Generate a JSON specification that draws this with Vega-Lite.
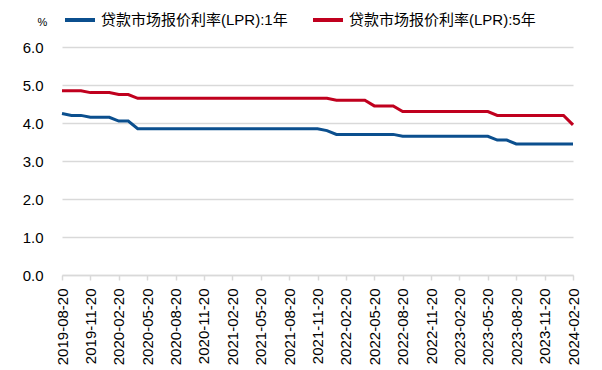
{
  "$schema": "https://vega.github.io/schema/vega-lite/v6.json",
  "width": 511,
  "height": 228,
  "autosize": "none",
  "padding": {"left": 62, "top": 47, "right": 29, "bottom": 95},
  "background": "white",
  "config": {"view": {"stroke": null}, "font": "Liberation Sans, Noto Sans CJK SC"},
  "datasets": {
    "lpr": [
      {"date": "2019-08-20", "y1": 4.25, "y5": 4.85},
      {"date": "2019-09-20", "y1": 4.20, "y5": 4.85},
      {"date": "2019-10-20", "y1": 4.20, "y5": 4.85},
      {"date": "2019-11-20", "y1": 4.15, "y5": 4.80},
      {"date": "2019-12-20", "y1": 4.15, "y5": 4.80},
      {"date": "2020-01-20", "y1": 4.15, "y5": 4.80},
      {"date": "2020-02-20", "y1": 4.05, "y5": 4.75},
      {"date": "2020-03-20", "y1": 4.05, "y5": 4.75},
      {"date": "2020-04-20", "y1": 3.85, "y5": 4.65},
      {"date": "2020-05-20", "y1": 3.85, "y5": 4.65},
      {"date": "2020-06-20", "y1": 3.85, "y5": 4.65},
      {"date": "2020-07-20", "y1": 3.85, "y5": 4.65},
      {"date": "2020-08-20", "y1": 3.85, "y5": 4.65},
      {"date": "2020-09-20", "y1": 3.85, "y5": 4.65},
      {"date": "2020-10-20", "y1": 3.85, "y5": 4.65},
      {"date": "2020-11-20", "y1": 3.85, "y5": 4.65},
      {"date": "2020-12-20", "y1": 3.85, "y5": 4.65},
      {"date": "2021-01-20", "y1": 3.85, "y5": 4.65},
      {"date": "2021-02-20", "y1": 3.85, "y5": 4.65},
      {"date": "2021-03-20", "y1": 3.85, "y5": 4.65},
      {"date": "2021-04-20", "y1": 3.85, "y5": 4.65},
      {"date": "2021-05-20", "y1": 3.85, "y5": 4.65},
      {"date": "2021-06-20", "y1": 3.85, "y5": 4.65},
      {"date": "2021-07-20", "y1": 3.85, "y5": 4.65},
      {"date": "2021-08-20", "y1": 3.85, "y5": 4.65},
      {"date": "2021-09-20", "y1": 3.85, "y5": 4.65},
      {"date": "2021-10-20", "y1": 3.85, "y5": 4.65},
      {"date": "2021-11-20", "y1": 3.85, "y5": 4.65},
      {"date": "2021-12-20", "y1": 3.80, "y5": 4.65},
      {"date": "2022-01-20", "y1": 3.70, "y5": 4.60},
      {"date": "2022-02-20", "y1": 3.70, "y5": 4.60},
      {"date": "2022-03-20", "y1": 3.70, "y5": 4.60},
      {"date": "2022-04-20", "y1": 3.70, "y5": 4.60},
      {"date": "2022-05-20", "y1": 3.70, "y5": 4.45},
      {"date": "2022-06-20", "y1": 3.70, "y5": 4.45},
      {"date": "2022-07-20", "y1": 3.70, "y5": 4.45},
      {"date": "2022-08-20", "y1": 3.65, "y5": 4.30},
      {"date": "2022-09-20", "y1": 3.65, "y5": 4.30},
      {"date": "2022-10-20", "y1": 3.65, "y5": 4.30},
      {"date": "2022-11-20", "y1": 3.65, "y5": 4.30},
      {"date": "2022-12-20", "y1": 3.65, "y5": 4.30},
      {"date": "2023-01-20", "y1": 3.65, "y5": 4.30},
      {"date": "2023-02-20", "y1": 3.65, "y5": 4.30},
      {"date": "2023-03-20", "y1": 3.65, "y5": 4.30},
      {"date": "2023-04-20", "y1": 3.65, "y5": 4.30},
      {"date": "2023-05-20", "y1": 3.65, "y5": 4.30},
      {"date": "2023-06-20", "y1": 3.55, "y5": 4.20},
      {"date": "2023-07-20", "y1": 3.55, "y5": 4.20},
      {"date": "2023-08-20", "y1": 3.45, "y5": 4.20},
      {"date": "2023-09-20", "y1": 3.45, "y5": 4.20},
      {"date": "2023-10-20", "y1": 3.45, "y5": 4.20},
      {"date": "2023-11-20", "y1": 3.45, "y5": 4.20},
      {"date": "2023-12-20", "y1": 3.45, "y5": 4.20},
      {"date": "2024-01-20", "y1": 3.45, "y5": 4.20},
      {"date": "2024-02-20", "y1": 3.45, "y5": 3.95}
    ]
  },
  "data": {"name": "lpr"},
  "transform": [
    {"fold": ["y1", "y5"], "as": ["key", "value"]},
    {"calculate": "datum.key === 'y1' ? '贷款市场报价利率(LPR):1年' : '贷款市场报价利率(LPR):5年'", "as": "series"}
  ],
  "mark": {"type": "line", "strokeWidth": 3, "interpolate": "linear"},
  "encoding": {
    "x": {
      "field": "date",
      "type": "ordinal",
      "sort": null,
      "scale": {"type": "point", "padding": 0},
      "axis": {
        "title": null,
        "labelExpr": "indexof(['02','05','08','11'], slice(datum.value, 5, 7)) >= 0 ? datum.value : ''",
        "tickOpacity": {"condition": {"test": "indexof(['02','05','08','11'], slice(datum.value, 5, 7)) >= 0", "value": 1}, "value": 0},
        "labelAngle": -90,
        "labelAlign": "right",
        "labelBaseline": "middle",
        "labelFontSize": 15,
        "labelColor": "#000000",
        "labelPadding": 8,
        "labelOverlap": false,
        "labelBound": false,
        "labelFlush": false,
        "domainColor": "#d9d9d9",
        "domainWidth": 1.5,
        "tickColor": "#d9d9d9",
        "tickSize": 5,
        "tickWidth": 1.5,
        "grid": false
      }
    },
    "y": {
      "field": "value",
      "type": "quantitative",
      "scale": {"domain": [0, 6], "nice": false},
      "axis": {
        "title": "%",
        "titleAngle": 0,
        "titleX": -20,
        "titleY": -25,
        "titleAlign": "center",
        "titleBaseline": "middle",
        "titleFontSize": 11,
        "titleFontWeight": "normal",
        "titleColor": "#000000",
        "values": [0, 1, 2, 3, 4, 5, 6],
        "format": ".1f",
        "labelFontSize": 15,
        "labelColor": "#000000",
        "labelPadding": 19,
        "domain": false,
        "ticks": false,
        "grid": true,
        "gridColor": "#d9d9d9",
        "gridWidth": 1.5
      }
    },
    "color": {
      "field": "series",
      "type": "nominal",
      "scale": {"domain": ["贷款市场报价利率(LPR):1年", "贷款市场报价利率(LPR):5年"], "range": ["#0b4f8e", "#c0001e"]},
      "legend": {
        "title": null,
        "orient": "none",
        "legendX": 1,
        "legendY": -44,
        "direction": "horizontal",
        "symbolType": "stroke",
        "symbolSize": 900,
        "symbolStrokeWidth": 4,
        "labelFontSize": 15,
        "labelColor": "#000000",
        "labelLimit": 400,
        "labelOffset": 4,
        "columnPadding": 17
      }
    }
  }
}
